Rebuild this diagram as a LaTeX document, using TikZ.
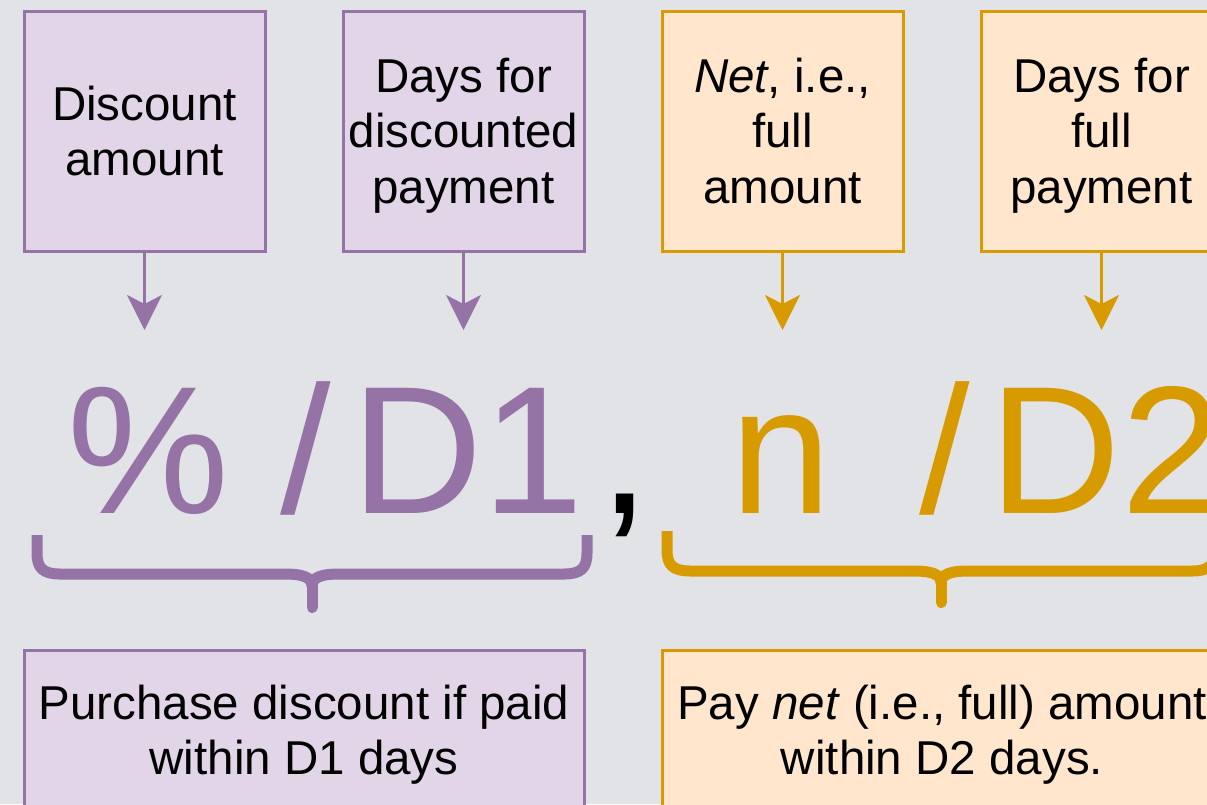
\documentclass[tikz,border=0pt]{standalone}
\usepackage{fontspec}
\setmainfont{Liberation Sans}
\usetikzlibrary{arrows.meta}
\definecolor{bg}{HTML}{E1E3E6}
\definecolor{purpline}{HTML}{9673A6}
\definecolor{purpfill}{HTML}{E1D5E7}
\definecolor{orgline}{HTML}{D79B00}
\definecolor{orgfill}{HTML}{FFE6CC}
\newcommand\lstrut{\rule[-11pt]{0pt}{55.8pt}}
\tikzset{
  smalltext/.style={font=\fontsize{47.5}{55.8}\selectfont, align=center, text=black},
  pbox/.style={draw=purpline, fill=purpfill, line width=3pt, inner sep=0pt, smalltext},
  obox/.style={draw=orgline, fill=orgfill, line width=3pt, inner sep=0pt, smalltext},
  topbox/.style={minimum width=241pt, minimum height=240pt},
  botbox/.style={minimum width=560pt, minimum height=160pt},
  parrow/.style={draw=purpline, line width=3pt, -{Stealth[length=35pt,width=35pt,inset=9pt,fill=purpline]}},
  oarrow/.style={draw=orgline, line width=3pt, -{Stealth[length=35pt,width=35pt,inset=9pt,fill=orgline]}},
  bigtext/.style={font=\fontsize{182}{200}\selectfont, inner sep=0pt, anchor=base west},
  brace/.style={line width=11pt},
}
\begin{document}
\begin{tikzpicture}[x=1pt,y=-1pt]
\useasboundingbox (0,0) rectangle (1207,804);
\clip (0,0) rectangle (1207,804);
\fill[bg] (0,0) rectangle (1207,804);

% top boxes
\node[pbox, topbox] (b1) at (144.5,131) {\lstrut Discount\\\lstrut amount};
\node[pbox, topbox] (b2) at (463.5,131) {\lstrut Days for\\\lstrut discounted\\\lstrut payment};
\node[obox, topbox] (b3) at (782.5,131) {\lstrut\textit{Net}, i.e.,\\\lstrut full\\\lstrut amount};
\node[obox, topbox] (b4) at (1101.5,131) {\lstrut Days for\\\lstrut full\\\lstrut payment};

% arrow ends
\coordinate (a1) at (144.5,330);
\coordinate (a2) at (463.5,330);
\coordinate (a3) at (782.5,330);
\coordinate (a4) at (1101.5,330);
\draw[parrow] (b1.south) -- (a1);
\draw[parrow] (b2.south) -- (a2);
\draw[oarrow] (b3.south) -- (a3);
\draw[oarrow] (b4.south) -- (a4);

% big formula
\node[bigtext, text=purpline] (f1) at (67,513) {\%\hspace{52pt}/\hspace{20pt}D1};
\node[bigtext, text=black] (comma) at (599,513) {,};
\node[bigtext, text=orgline] (f2) at (730,513) {n\hspace{88pt}/\hspace{20pt}D2};

% braces
\draw[brace, purpline] (37,535) -- (37,553) .. controls (37,568) and (43,574) .. (60,574)
  -- (285,574) .. controls (302,574) and (312,577) .. (312,586);
\draw[brace, purpline] (587,535) -- (587,553) .. controls (587,568) and (581,574) .. (564,574)
  -- (339,574) .. controls (322,574) and (312,577) .. (312,586);
\draw[brace, purpline, line cap=round] (312,584) -- (312,607.5);

\draw[brace, orgline] (667,531) -- (667,550) .. controls (667,565) and (673,571) .. (690,571)
  -- (914,571) .. controls (931,571) and (941,574) .. (941,583);
\draw[brace, orgline] (1215,531) -- (1215,550) .. controls (1215,565) and (1209,571) .. (1192,571)
  -- (968,571) .. controls (951,571) and (941,574) .. (941,583);
\draw[brace, orgline, line cap=round] (941,581) -- (941,602.5);

% bottom boxes
\node[pbox, botbox] (d1) at (304,730) {\lstrut Purchase discount if paid\\\lstrut within D1 days};
\node[obox, botbox] (d2) at (942,730) {\lstrut Pay \textit{net} (i.e., full) amount\\\lstrut within D2 days.};
\end{tikzpicture}
\end{document}
